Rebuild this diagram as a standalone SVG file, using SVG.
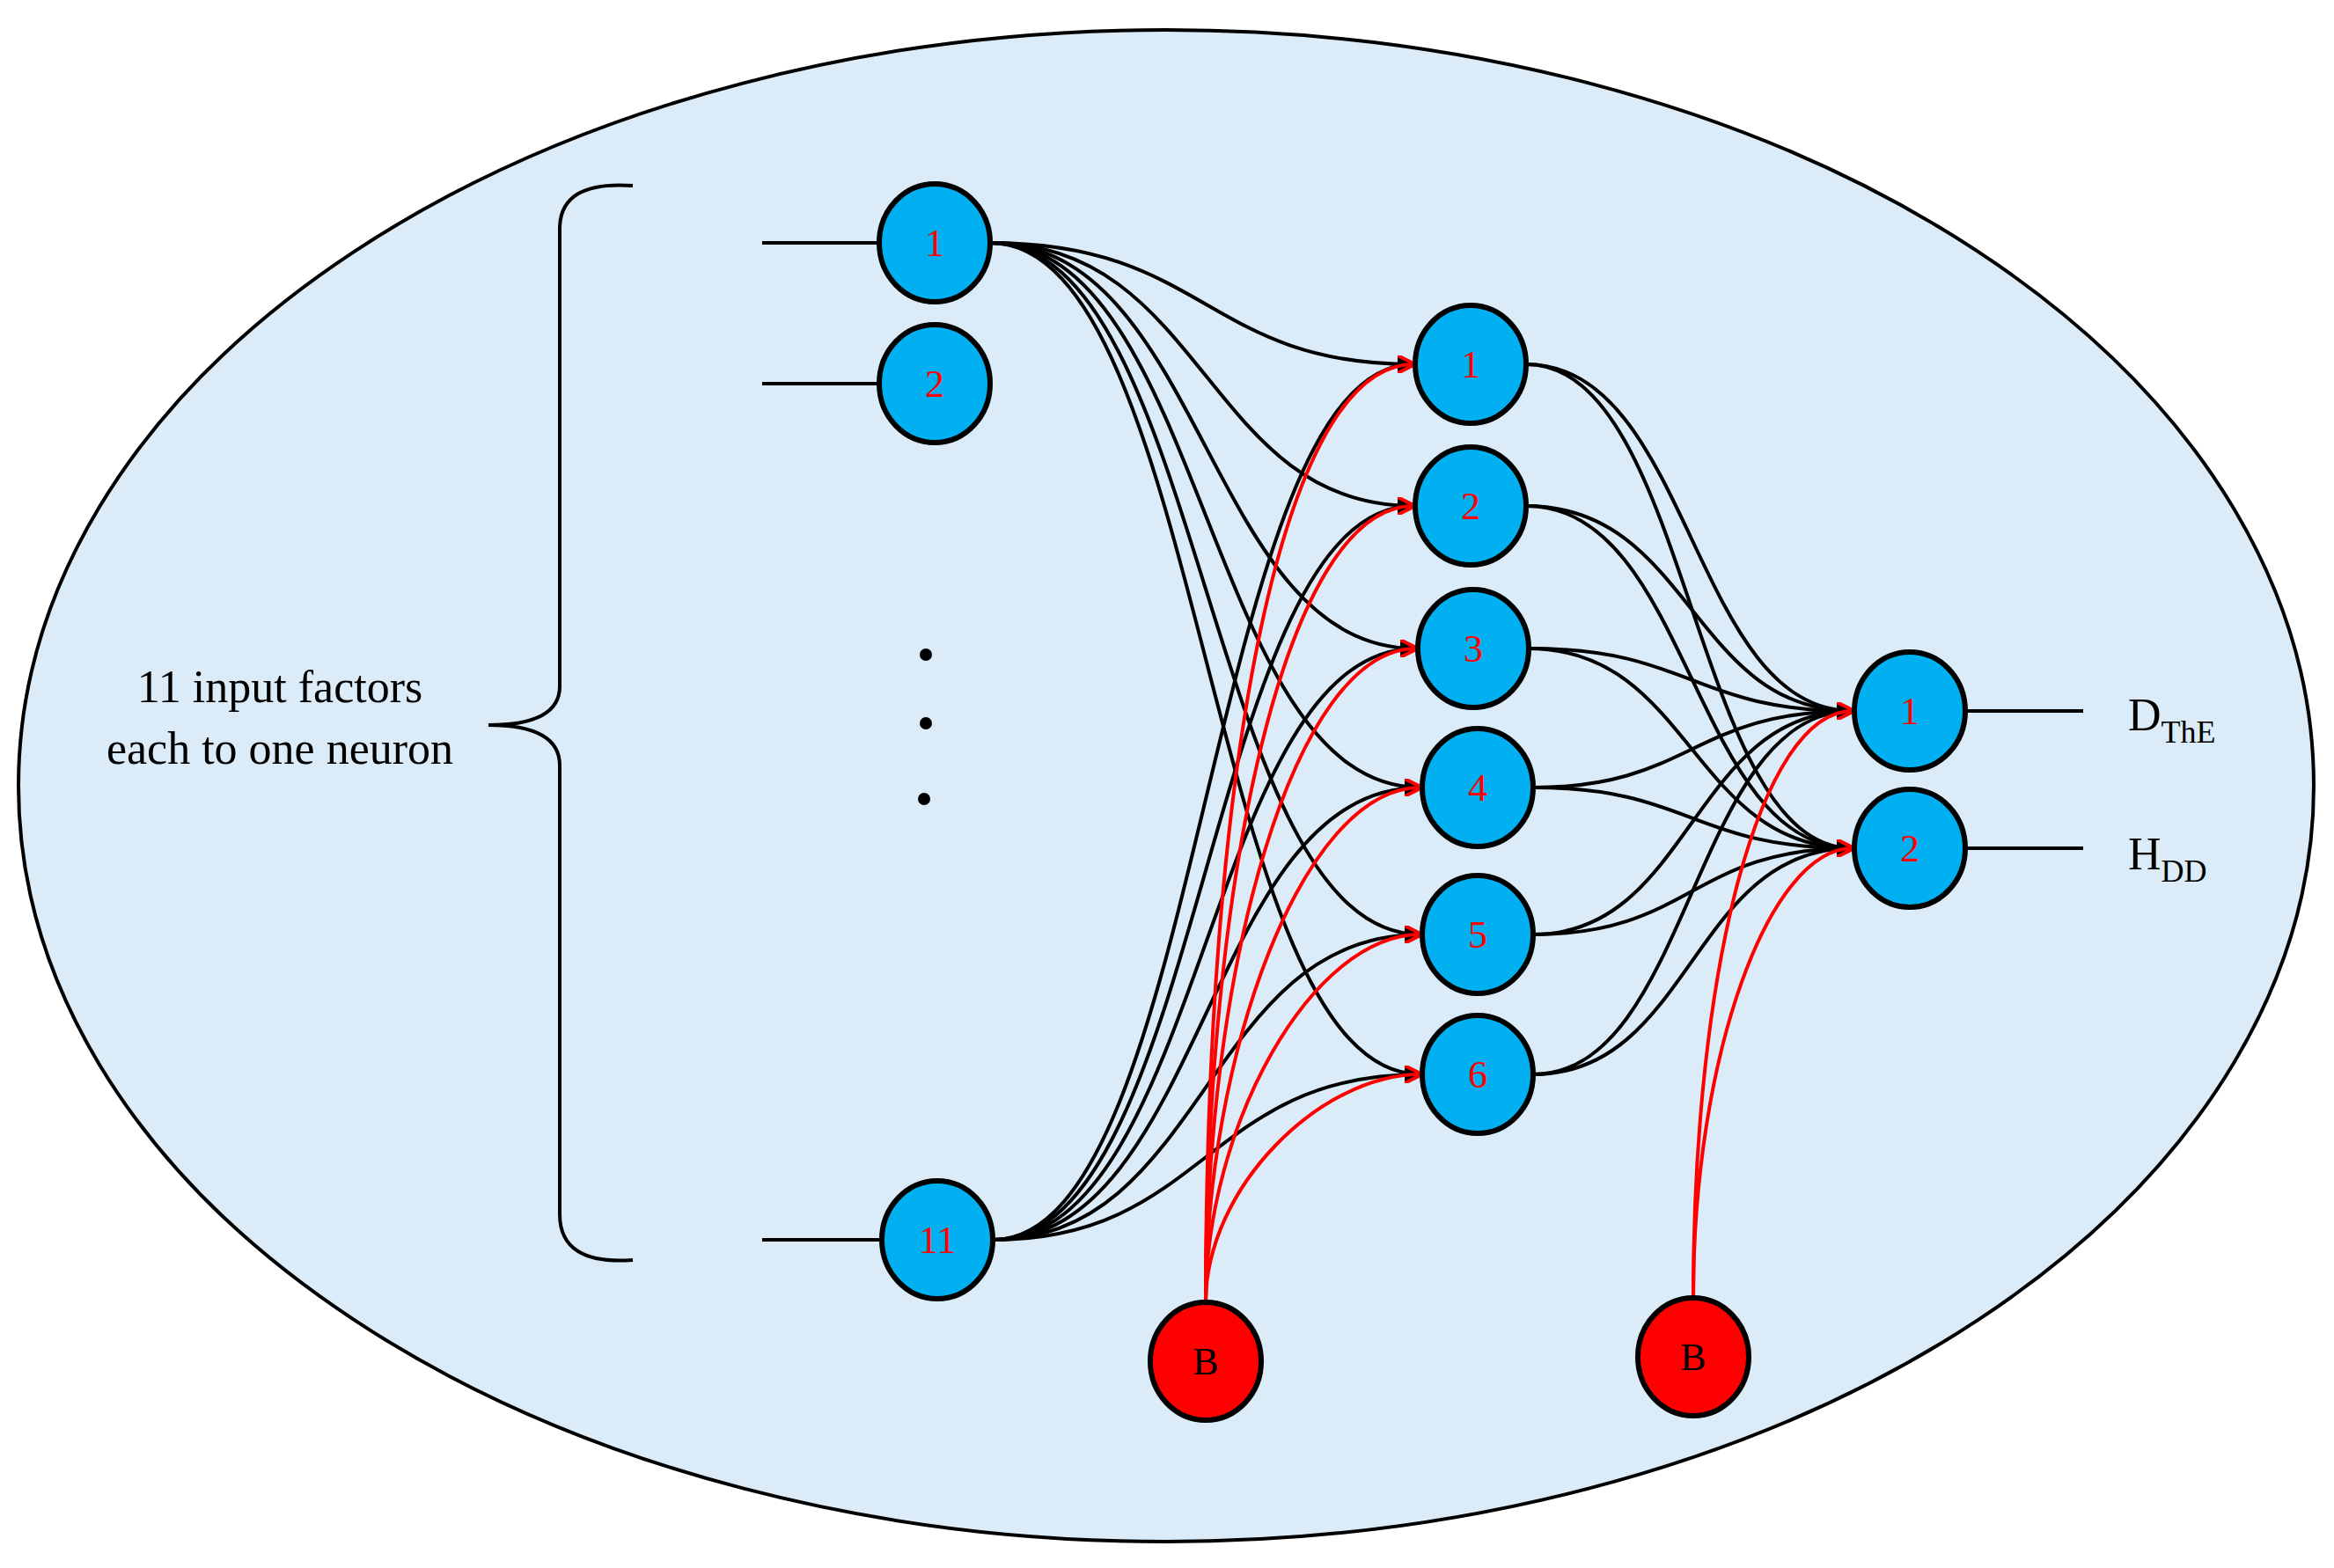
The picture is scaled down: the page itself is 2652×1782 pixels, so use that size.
<svg xmlns="http://www.w3.org/2000/svg" width="2652" height="1782" viewBox="0 0 2652 1782">
<style>
.n{fill:#00b0f0;stroke:#000;stroke-width:6}
.b{fill:#f00;stroke:#000;stroke-width:6}
.t{font-family:"Liberation Serif",serif;font-size:44px;fill:#f00;text-anchor:middle}
.tb{font-family:"Liberation Serif",serif;font-size:44px;fill:#000;text-anchor:middle}
.k{fill:none;stroke:#000;stroke-width:4}
.r{fill:none;stroke:#f00;stroke-width:4}
.lab{font-family:"Liberation Serif",serif;font-size:52px;fill:#000}
</style>
<defs>
<marker id="ak" viewBox="0 0 10 10" refX="9" refY="5" markerWidth="5" markerHeight="5" orient="auto" markerUnits="strokeWidth"><path d="M0,0L10,5L0,10z" fill="#000"/></marker>
<marker id="ar" viewBox="0 0 10 10" refX="9" refY="5" markerWidth="5" markerHeight="5" orient="auto" markerUnits="strokeWidth"><path d="M0,0L10,5L0,10" fill="none" stroke="#f00" stroke-width="2"/></marker>
</defs>
<ellipse cx="1325" cy="893" rx="1304" ry="859" fill="#dbebf7" stroke="#000" stroke-width="4"/>
<g id="bracket" class="k"><path d="M719,211 Q636,205 636,260 L636,780 Q636,824 555,824 Q636,824 636,870 L636,1380 Q636,1438 719,1432"/></g>
<g id="label" class="lab" text-anchor="middle"><text x="318" y="798">11 input factors</text><text x="318" y="868">each to one neuron</text></g>
<g id="dots" fill="#000"><circle cx="1052" cy="744" r="7"/><circle cx="1052" cy="822" r="7"/><circle cx="1050" cy="908" r="7"/></g>
<g id="connectors">
<g class="k">
<path d="M866,276H999M866,436H999M866,1409H1002M2233,808H2367M2233,964H2367"/>
</g>
<g class="k" marker-end="url(#ak)">
<path d="M1125,276C1370,276 1370,414 1606,414"/>
<path d="M1125,276C1370,276 1370,575 1606,575"/>
<path d="M1125,276C1370,276 1370,737 1609,737"/>
<path d="M1125,276C1370,276 1370,895 1614,895"/>
<path d="M1125,276C1370,276 1370,1062 1614,1062"/>
<path d="M1125,276C1370,276 1370,1221 1614,1221"/>
<path d="M1128,1409C1370,1409 1370,414 1606,414"/>
<path d="M1128,1409C1370,1409 1370,575 1606,575"/>
<path d="M1128,1409C1370,1409 1370,737 1609,737"/>
<path d="M1128,1409C1370,1409 1370,895 1614,895"/>
<path d="M1128,1409C1370,1409 1370,1062 1614,1062"/>
<path d="M1128,1409C1370,1409 1370,1221 1614,1221"/>
<path d="M1734,414C1922,414 1922,808 2105,808"/>
<path d="M1734,575C1922,575 1922,808 2105,808"/>
<path d="M1737,737C1922,737 1922,808 2105,808"/>
<path d="M1742,895C1922,895 1922,808 2105,808"/>
<path d="M1742,1062C1922,1062 1922,808 2105,808"/>
<path d="M1742,1221C1922,1221 1922,808 2105,808"/>
<path d="M1734,414C1922,414 1922,964 2105,964"/>
<path d="M1734,575C1922,575 1922,964 2105,964"/>
<path d="M1737,737C1922,737 1922,964 2105,964"/>
<path d="M1742,895C1922,895 1922,964 2105,964"/>
<path d="M1742,1062C1922,1062 1922,964 2105,964"/>
<path d="M1742,1221C1922,1221 1922,964 2105,964"/>
</g>
<g class="r" marker-end="url(#ar)">
<path d="M1370,1480C1370,900 1450,414 1606,414"/>
<path d="M1370,1480C1370,1000 1460,575 1606,575"/>
<path d="M1370,1480C1370,1100 1470,737 1609,737"/>
<path d="M1370,1480C1370,1200 1480,895 1614,895"/>
<path d="M1370,1480C1370,1280 1490,1062 1614,1062"/>
<path d="M1370,1480C1370,1350 1500,1221 1614,1221"/>
<path d="M1924,1475C1924,1100 2000,808 2105,808"/>
<path d="M1924,1475C1924,1200 2010,964 2105,964"/>
</g>
</g>
<g id="in1"><ellipse class="n" cx="1062" cy="276" rx="63" ry="67"/><text class="t" x="1062" y="291">1</text></g>
<g id="in2"><ellipse class="n" cx="1062" cy="436" rx="63" ry="67"/><text class="t" x="1062" y="451">2</text></g>
<g id="in11"><ellipse class="n" cx="1065" cy="1409" rx="63" ry="67"/><text class="t" x="1065" y="1424">11</text></g>
<g id="h1"><ellipse class="n" cx="1671" cy="414" rx="63" ry="67"/><text class="t" x="1671" y="429">1</text></g>
<g id="h2"><ellipse class="n" cx="1671" cy="575" rx="63" ry="67"/><text class="t" x="1671" y="590">2</text></g>
<g id="h3"><ellipse class="n" cx="1674" cy="737" rx="63" ry="67"/><text class="t" x="1674" y="752">3</text></g>
<g id="h4"><ellipse class="n" cx="1679" cy="895" rx="63" ry="67"/><text class="t" x="1679" y="910">4</text></g>
<g id="h5"><ellipse class="n" cx="1679" cy="1062" rx="63" ry="67"/><text class="t" x="1679" y="1077">5</text></g>
<g id="h6"><ellipse class="n" cx="1679" cy="1221" rx="63" ry="67"/><text class="t" x="1679" y="1236">6</text></g>
<g id="o1"><ellipse class="n" cx="2170" cy="808" rx="63" ry="67"/><text class="t" x="2170" y="823">1</text></g>
<g id="o2"><ellipse class="n" cx="2170" cy="964" rx="63" ry="67"/><text class="t" x="2170" y="979">2</text></g>
<g id="b1"><ellipse class="b" cx="1370" cy="1547" rx="63" ry="67"/><text class="tb" x="1370" y="1562">B</text></g>
<g id="b2"><ellipse class="b" cx="1924" cy="1542" rx="63" ry="67"/><text class="tb" x="1924" y="1557">B</text></g>
<g id="outlabels" class="lab"><text x="2418" y="830">D<tspan font-size="36" dy="14">ThE</tspan></text><text x="2418" y="988">H<tspan font-size="36" dy="14">DD</tspan></text></g>
</svg>
